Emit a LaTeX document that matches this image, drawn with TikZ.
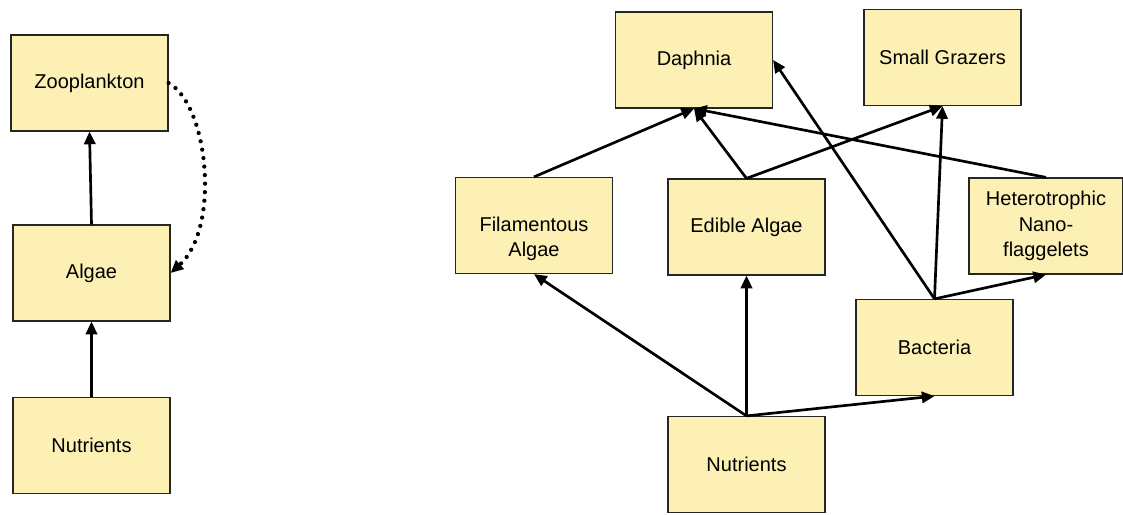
\documentclass[tikz,border=0pt]{standalone}
\usepackage{fontspec}
\setmainfont{Liberation Sans}
\usepackage{xcolor}
\usetikzlibrary{positioning,arrows.meta}
\definecolor{boxfill}{RGB}{253,240,181}

\begin{document}
\begin{tikzpicture}[
  x=0.75pt, y=0.75pt,
  taxon/.style={draw=black!85, line width=0.9pt, fill=boxfill, align=center,
    minimum width=117.75pt, minimum height=72pt, inner sep=2pt,
    font=\fontsize{15}{19}\selectfont},
  flow/.style={line width=2pt, -{Triangle[length=9.5pt,width=8.5pt]}},
  feedback/.style={line width=3.2pt, line cap=round, dash pattern=on 0pt off 6.4pt,
    -{Triangle[length=9.5pt,width=8.5pt]}}]
  \useasboundingbox (0,0) rectangle (1123,514);

  % simple chain
  \node[taxon] (zoo) at (89.5,431) {Zooplankton};
  \node[taxon] (alg) at (91.5,241) {Algae};
  \node[taxon] (nut1) at (91.5,68.5) {Nutrients};

  \draw[flow] (alg.north) -- (zoo.south);
  \draw[flow] (nut1.north) -- (alg.south);
  \draw[feedback] (zoo.east) .. controls +(40,-22) and +(50,45) .. (alg.east);

  % detailed web
  \node[taxon] (daph) at (694,454) {Daphnia};
  \node[taxon] (small) at (942.5,456.5) {Small Grazers};
  \node[taxon] (fila) at (534,288.5) {\rule{0pt}{30.5pt}Filamentous\\Algae};
  \node[taxon] (edib) at (746.5,287) {Edible Algae};
  \node[taxon, minimum width=115.5pt] (hnf) at (1046,288) {Heterotrophic\\Nano-\\flaggelets};
  \node[taxon] (bact) at (934.5,166.5) {Bacteria};
  \node[taxon] (nut2) at (746.5,49.5) {Nutrients};

  \draw[flow] (nut2.north) -- (fila.south);
  \draw[flow] (nut2.north) -- (edib.south);
  \draw[flow] (nut2.north) -- (bact.south);
  \draw[flow] (bact.north) -- (daph.east);
  \draw[flow] (bact.north) -- (small.south);
  \draw[flow] (bact.north) -- (hnf.south);
  \draw[flow] (fila.north) -- (daph.south);
  \draw[flow] (edib.north) -- (daph.south);
  \draw[flow] (edib.north) -- (small.south);
  \draw[flow] (hnf.north) -- (daph.south);
\end{tikzpicture}
\end{document}
